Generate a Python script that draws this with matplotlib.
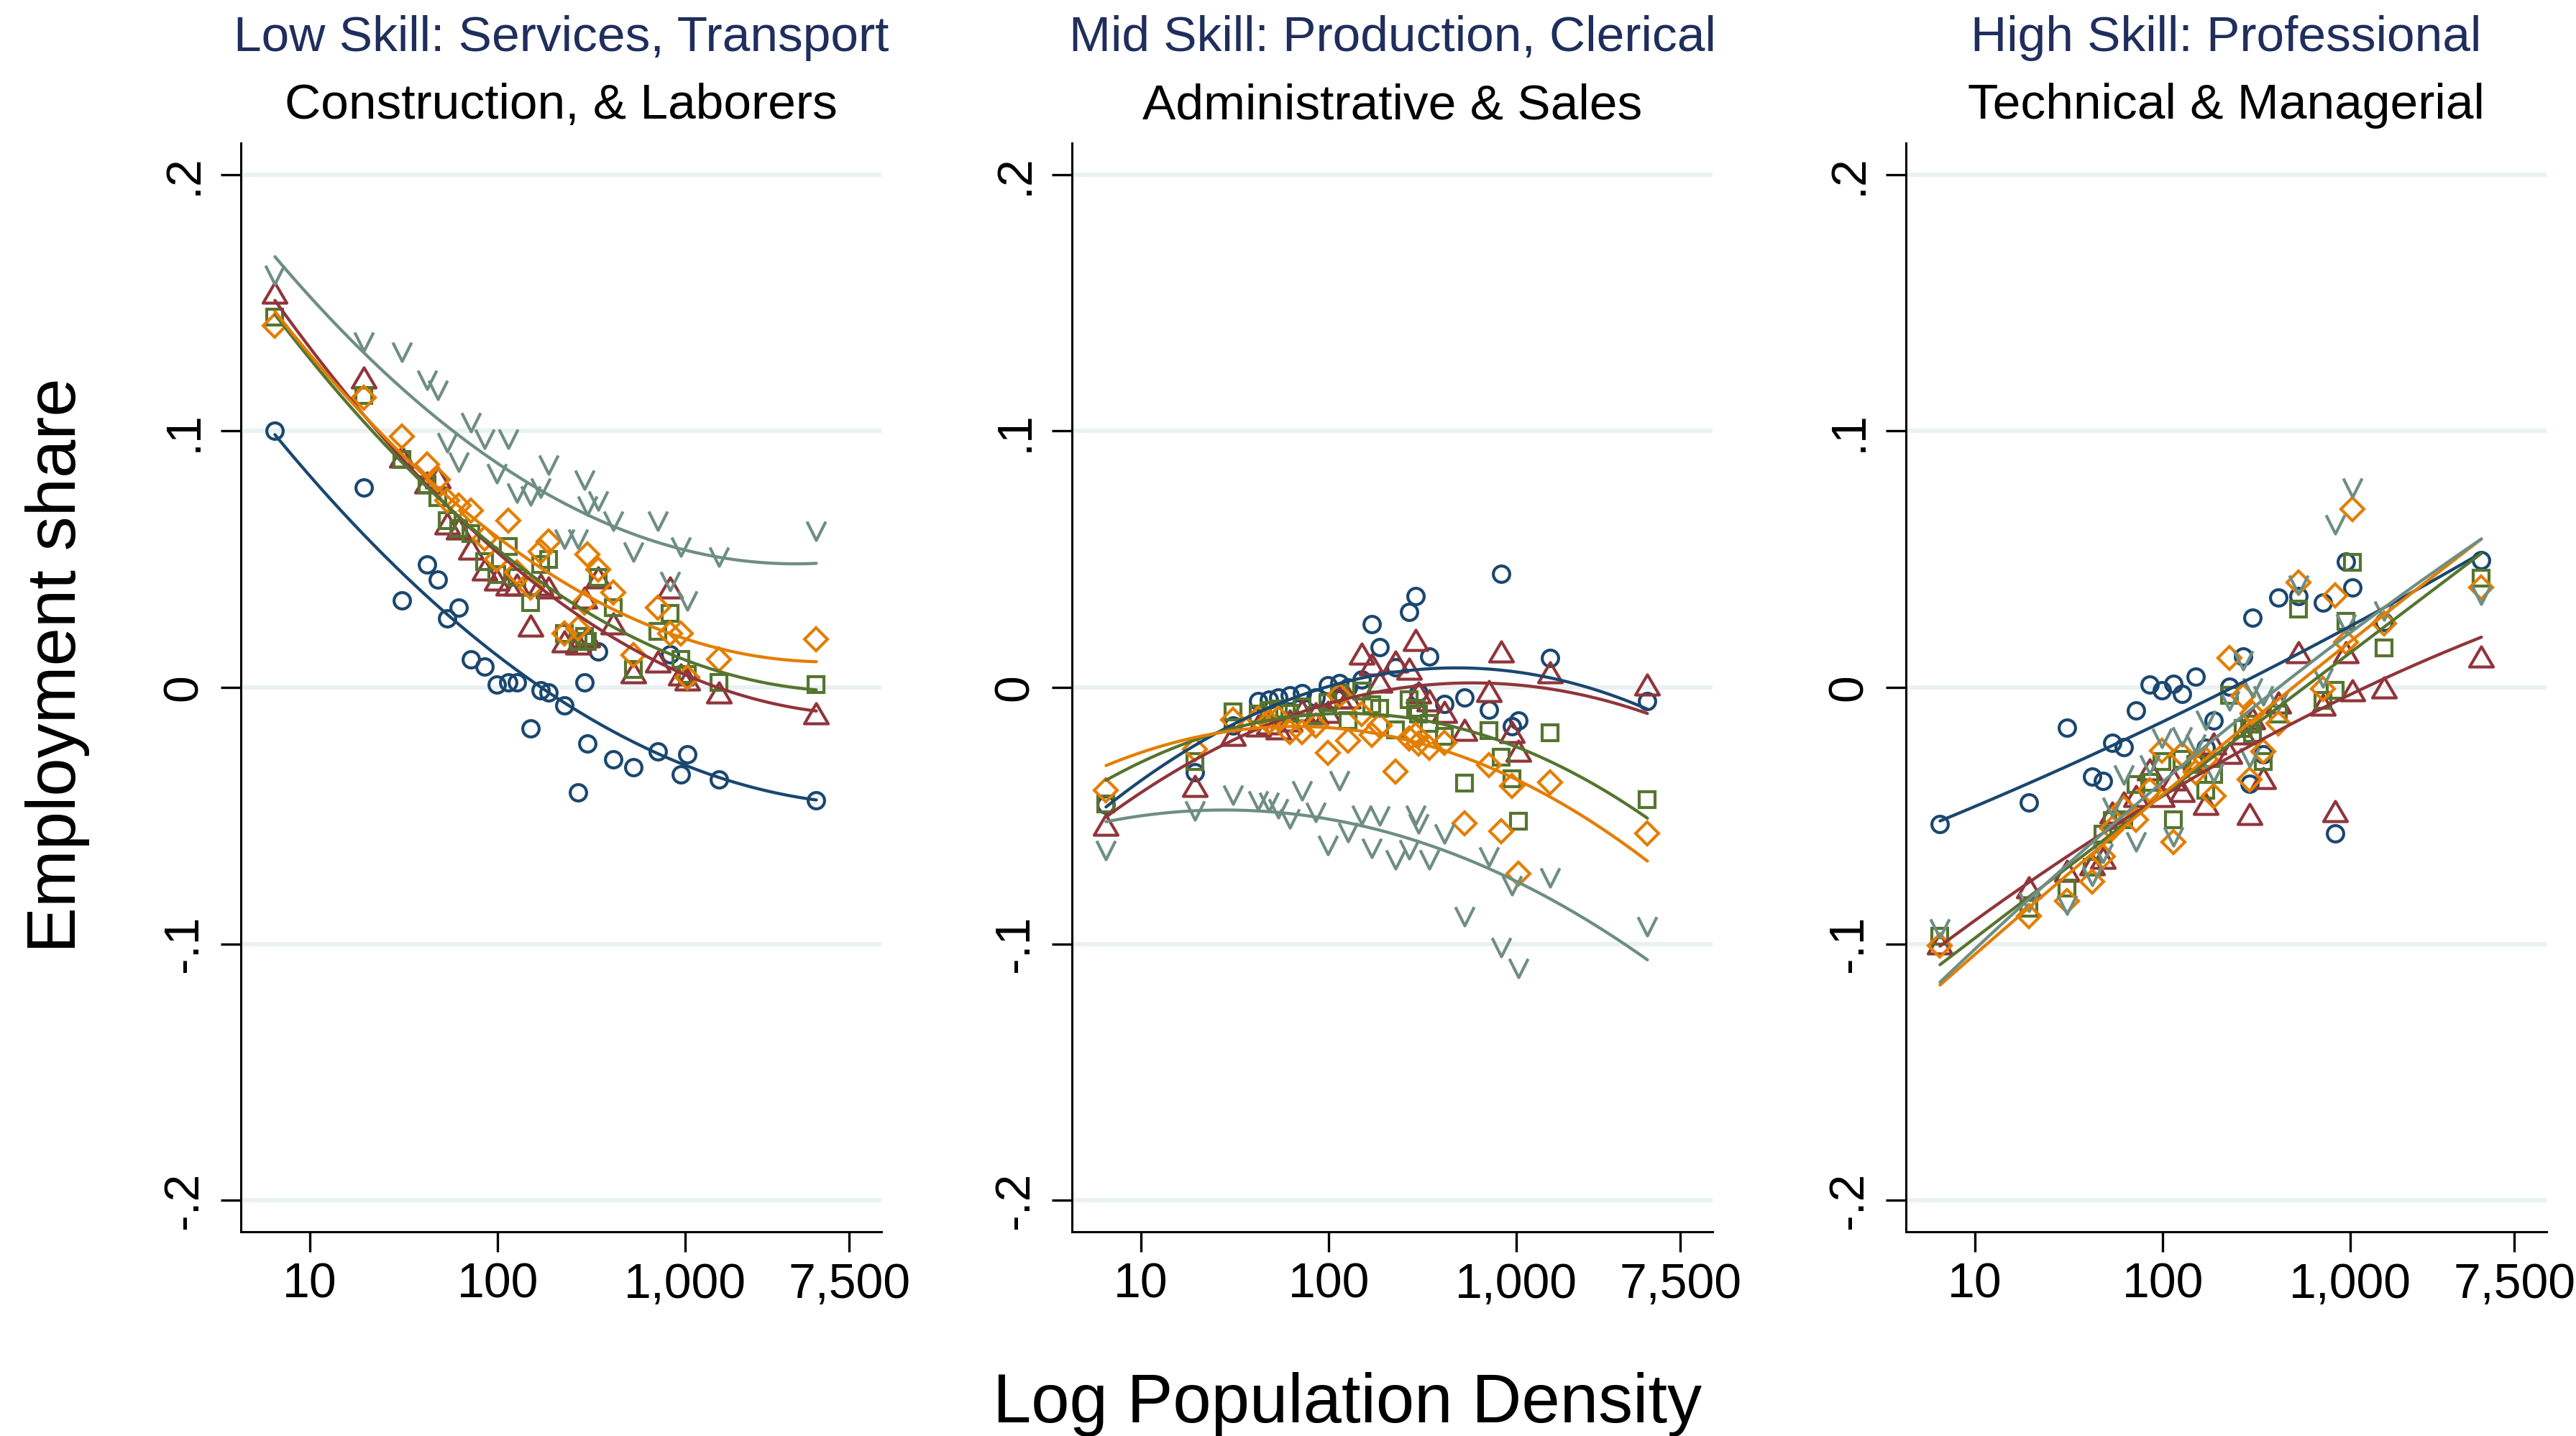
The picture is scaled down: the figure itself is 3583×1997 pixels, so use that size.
import numpy as np
import matplotlib
matplotlib.use("Agg")
import matplotlib.pyplot as plt
from matplotlib.path import Path

plt.rcParams['font.family'] = ['Liberation Sans', 'DejaVu Sans']

# Population density of each location (same for every series and panel)
DENSITY = [6.5, 19.3, 31, 42, 48, 54, 62, 72, 85, 99, 114, 127, 150, 170, 187,
           228, 268, 290, 302, 344, 415, 530, 712, 830, 950, 1030, 1520, 5000]

TITLES = [("Low Skill: Services, Transport", "Construction, & Laborers"),
          ("Mid Skill: Production, Clerical", "Administrative & Sales"),
          ("High Skill: Professional", "Technical & Managerial")]

XTICKS = [10, 100, 1000, 7500]
XTICK_LABELS = ["10", "100", "1,000", "7,500"]
YTICKS = [-0.2, -0.1, 0, 0.1, 0.2]
YTICK_LABELS = ["-.2", "-.1", "0", ".1", ".2"]

# Low skill panel
low_navy = [0.100, 0.078, 0.034, 0.048, 0.042, 0.027, 0.031, 0.011, 0.008, 0.001,
            0.002, 0.002, -0.016, -0.001, -0.002, -0.007, -0.041, 0.002, -0.022, 0.014,
            -0.028, -0.031, -0.025, 0.013, -0.034, -0.026, -0.036, -0.044]
low_maroon = [0.154, 0.121, 0.090, 0.080, 0.082, 0.064, 0.062, 0.054, 0.046, 0.042,
              0.040, 0.040, 0.024, 0.040, 0.039, 0.018, 0.017, 0.035, 0.020, 0.043,
              0.025, 0.006, 0.010, 0.039, 0.005, 0.003, -0.002, -0.010]
low_green = [0.1445, 0.114, 0.089, 0.079, 0.074, 0.065, 0.062, 0.060, 0.049, 0.044,
             0.055, 0.043, 0.033, 0.048, 0.050, 0.021, 0.018, 0.020, 0.018, 0.043,
             0.031, 0.007, 0.022, 0.029, 0.011, 0.005, 0.002, 0.001]
low_orange = [0.141, 0.113, 0.098, 0.087, 0.081, 0.073, 0.071, 0.069, 0.058, 0.050,
              0.065, 0.045, 0.039, 0.053, 0.057, 0.021, 0.023, 0.033, 0.052, 0.046,
              0.037, 0.0125, 0.031, 0.021, 0.021, 0.004, 0.011, 0.0187]
low_teal = [0.161, 0.135, 0.131, 0.120, 0.116, 0.0955, 0.088, 0.1035, 0.097, 0.0835,
            0.097, 0.076, 0.075, 0.078, 0.087, 0.058, 0.058, 0.081, 0.071, 0.073,
            0.065, 0.053, 0.065, 0.0415, 0.055, 0.034, 0.051, 0.061]

# Mid skill panel
mid_navy = [-0.0457, -0.033, -0.015, -0.0052, -0.0049, -0.0039, -0.003, -0.0022, -0.004, 0.0008,
            0.0017, 0.000, 0.003, 0.0246, 0.0156, 0.0078, 0.0294, 0.0355, -0.002, 0.0121,
            -0.0065, -0.0039, -0.0087, 0.0443, -0.0151, -0.0128, 0.0114, -0.0052]
mid_maroon = [-0.0535, -0.0385, -0.0184, -0.015, -0.014, -0.016, -0.013, -0.009, -0.010, -0.0095,
              -0.004, -0.004, 0.0132, 0.0091, 0.0022, 0.010, 0.0074, 0.0185, -0.002, -0.005,
              -0.0095, -0.0166, -0.0015, 0.014, -0.0175, -0.0247, 0.0058, 0.0010]
mid_green = [-0.0454, -0.0288, -0.0095, -0.0103, -0.009, -0.0085, -0.010, -0.0075, -0.011, -0.006,
             -0.0023, -0.0128, -0.0015, -0.0067, -0.008, -0.0165, -0.0047, -0.008, -0.0105, -0.014,
             -0.019, -0.0372, -0.0167, -0.0272, -0.0355, -0.0523, -0.0176, -0.0438]
mid_orange = [-0.040, -0.024, -0.0127, -0.012, -0.0135, -0.012, -0.0175, -0.0175, -0.015, -0.0256,
              -0.003, -0.0208, -0.0103, -0.0184, -0.015, -0.0328, -0.020, -0.0184, -0.022, -0.0235,
              -0.0216, -0.053, -0.0304, -0.0562, -0.0385, -0.0725, -0.0369, -0.057]
mid_teal = [-0.0635, -0.048, -0.0418, -0.044, -0.0445, -0.047, -0.051, -0.0402, -0.0485, -0.0615,
            -0.0362, -0.0563, -0.0495, -0.0625, -0.050, -0.067, -0.063, -0.0495, -0.053, -0.067,
            -0.057, -0.0892, -0.066, -0.1013, -0.077, -0.1093, -0.0739, -0.0932]

# High skill panel
high_navy = [-0.0534, -0.045, -0.0157, -0.0347, -0.0365, -0.0217, -0.0232, -0.009, 0.001, -0.0012,
             0.0015, -0.0025, 0.0041, -0.0236, -0.0128, 0.0004, 0.0121, -0.0377, 0.0271, -0.026,
             0.0351, 0.0355, 0.0331, -0.0568, 0.0491, 0.039, 0.0255, 0.0496]
high_maroon = [-0.0998, -0.078, -0.0716, -0.0689, -0.0665, -0.0488, -0.045, -0.0423, -0.032, -0.0423,
               -0.036, -0.0404, -0.028, -0.0455, -0.022, -0.0254, -0.018, -0.0493, -0.012, -0.0353,
               -0.006, 0.0138, -0.0067, -0.0483, 0.0138, -0.001, 0.000, 0.0121]
high_green = [-0.097, -0.086, -0.0783, -0.070, -0.0572, -0.052, -0.0516, -0.038, -0.037, -0.029,
              -0.0516, -0.028, -0.030, -0.040, -0.034, -0.003, -0.016, -0.0142, -0.018, -0.029,
              -0.0104, 0.0306, -0.005, -0.001, 0.0258, 0.0487, 0.0153, 0.0427]
high_orange = [-0.1006, -0.0893, -0.0832, -0.0757, -0.066, -0.055, -0.047, -0.0515, -0.040, -0.0248,
               -0.0604, -0.026, -0.033, -0.028, -0.0423, 0.0116, -0.0034, -0.0358, -0.010, -0.025,
               -0.014, 0.041, -0.0005, 0.0358, 0.0177, 0.0696, 0.025, 0.039]
high_teal = [-0.094, -0.0836, -0.0848, -0.0735, -0.0646, -0.0465, -0.034, -0.060, -0.030, -0.0195,
             -0.058, -0.019, -0.022, -0.0125, -0.033, -0.005, 0.0106, -0.0273, 0.000, -0.003,
             -0.005, 0.040, 0.004, 0.0636, 0.025, 0.078, 0.030, 0.0363]

# Fitted (quadratic in log density) lines at these densities
FIT_X = [6.5, 100, 950, 5000]
low_fit = [[0.0987, 0.0120, -0.0292, -0.0441],
           [0.151, 0.0524, 0.0059, -0.0093],
           [0.1454, 0.0541, 0.0110, -0.0008],
           [0.1466, 0.0587, 0.0194, 0.0101],
           [0.168, 0.0874, 0.0540, 0.0484]]
mid_fit = [[-0.0465, 0.0000, 0.0068, -0.0087],
           [-0.0506, -0.0060, 0.0008, -0.0100],
           [-0.0360, -0.0110, -0.0216, -0.0514],
           [-0.0304, -0.0160, -0.0347, -0.0679],
           [-0.0522, -0.0520, -0.0740, -0.1066]]
high_fit = [[-0.0523, -0.0126, 0.0220, 0.0529],
            [-0.1010, -0.0420, -0.0040, 0.0198],
            [-0.1080, -0.0425, 0.0130, 0.0520],
            [-0.1160, -0.0420, 0.0170, 0.0577],
            [-0.1150, -0.0367, 0.0200, 0.0580]]

PANELS = [
    [low_navy, low_maroon, low_green, low_orange, low_teal],
    [mid_navy, mid_maroon, mid_green, mid_orange, mid_teal],
    [high_navy, high_maroon, high_green, high_orange, high_teal],
]
FITS = [low_fit, mid_fit, high_fit]

COLORS = ["#1a476f", "#90353b", "#55752f", "#e37e00", "#6e8e84"]
GRID_COLOR = "#eaf1f3"
TITLE_COLOR = "#1f2e5c"

# Stata-like hollow symbols
TRI = Path([(0, 0.425), (-0.5, -0.425), (0.5, -0.425), (0, 0.425)],
           [Path.MOVETO, Path.LINETO, Path.LINETO, Path.CLOSEPOLY])
VEE = Path([(-0.5, 0.5), (0, -0.5), (0.5, 0.5)],
           [Path.MOVETO, Path.LINETO, Path.LINETO])
MARKERS = ["o", TRI, "s", "D", VEE]
MSIZES = [8.2, 11.9, 8.2, 8.4, 9.4]

W, H = 3583, 1997
fig = plt.figure(figsize=(W / 200, H / 200), dpi=200)

lefts = [335, 1491, 2651]
ax_w = 891
ax_bottom, ax_top = 1713, 199

x = np.array(DENSITY, dtype=float)
xfit = np.logspace(np.log10(x.min()), np.log10(x.max()), 200)

for k, series in enumerate(PANELS):
    ax = fig.add_axes([lefts[k] / W, 1 - ax_bottom / H, ax_w / W, (ax_bottom - ax_top) / H])
    ax.set_xscale("log")
    ax.set_xlim(4.28, 11120)
    ax.set_ylim(-0.2123, 0.2123)

    # scatter points
    for y, c, m, ms in zip(series, COLORS, MARKERS, MSIZES):
        ax.plot(x, y, linestyle="none", marker=m, markersize=ms, markerfacecolor="none",
                markeredgecolor=c, markeredgewidth=1.5, zorder=3)
    # quadratic fit lines
    for fv, c in zip(FITS[k], COLORS):
        coef = np.polyfit(np.log10(FIT_X), fv, 2)
        ax.plot(xfit, np.polyval(coef, np.log10(xfit)), color=c, lw=1.55, zorder=4,
                solid_capstyle="round")

    ax.set_xticks(XTICKS)
    ax.set_xticklabels(XTICK_LABELS)
    ax.xaxis.set_minor_locator(matplotlib.ticker.NullLocator())
    ax.set_yticks(YTICKS)
    ax.set_yticklabels(YTICK_LABELS)
    for lab in ax.get_yticklabels():
        lab.set_rotation(90)
        lab.set_va("center")

    ax.yaxis.grid(True, color=GRID_COLOR, lw=2.2)
    ax.set_axisbelow(True)
    for side in ["top", "right"]:
        ax.spines[side].set_visible(False)
    for side in ["left", "bottom"]:
        ax.spines[side].set_linewidth(1.1)
    ax.tick_params(axis="both", direction="out", length=10, width=1.2, labelsize=24.5)
    ax.tick_params(axis="y", pad=7)
    ax.tick_params(axis="x", pad=5)

    cx = (lefts[k] + ax_w / 2) / W
    t1, t2 = TITLES[k]
    fig.text(cx, 1 - 71 / H, t1, ha="center", va="baseline", fontsize=25, color=TITLE_COLOR)
    fig.text(cx, 1 - 165 / H, t2, ha="center", va="baseline", fontsize=25, color="black")

fig.text(105 / W, 1 - 925 / H, "Employment share", rotation=90, rotation_mode="anchor",
         ha="center", va="baseline", fontsize=34.5)
fig.text(1874 / W, 1 - 1978 / H, "Log Population Density", ha="center", va="baseline",
         fontsize=34.5)

fig.savefig("out.png", dpi=200, facecolor="white")
